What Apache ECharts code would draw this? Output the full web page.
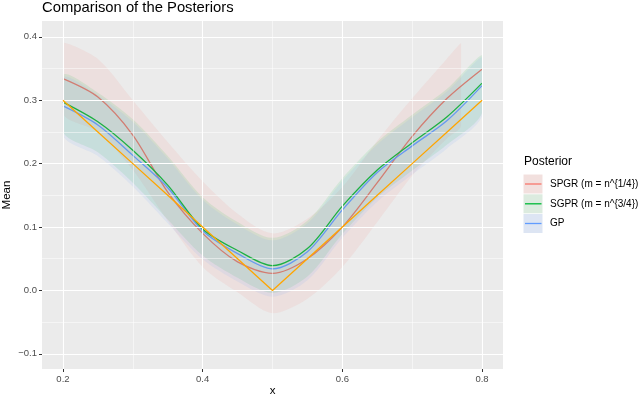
<!DOCTYPE html>
<html style="height: 100%">
<head>
<meta charset="utf-8">
</head>
<body style="height: 100%; margin: 0">
<div id="container" style="width: 640px; height: 397px"></div>
<script type="text/javascript" src="https://cdn.jsdelivr.net/npm/echarts@6/dist/echarts.min.js"></script>
<script type="text/javascript">
// values
var xs = [0.2, 0.25, 0.3, 0.35, 0.4, 0.45, 0.5, 0.55, 0.6, 0.65, 0.7, 0.75, 0.8];
var truth = [0.3, 0.25, 0.2, 0.15, 0.1, 0.05, 0.0, 0.05, 0.1, 0.15, 0.2, 0.25, 0.3];
var spgrMean = [0.334, 0.305, 0.245, 0.155, 0.090, 0.045, 0.027, 0.050, 0.100, 0.170, 0.243, 0.303, 0.349];
var sgprMean = [0.297, 0.266, 0.221, 0.166, 0.097, 0.063, 0.039, 0.066, 0.133, 0.190, 0.233, 0.274, 0.327];
var gpMean = [0.291, 0.261, 0.213, 0.162, 0.094, 0.058, 0.034, 0.061, 0.127, 0.186, 0.228, 0.268, 0.323];

// SPGR ribbon stops short of the right edge
var spgrX = [0.2, 0.25, 0.3, 0.35, 0.4, 0.45, 0.5, 0.55, 0.6, 0.65, 0.7, 0.75, 0.77];
var spgrLower = [0.279, 0.250, 0.190, 0.110, 0.037, -0.003, -0.036, -0.013, 0.037, 0.108, 0.181, 0.240, 0.260];
var spgrUpper = [0.391, 0.365, 0.300, 0.234, 0.172, 0.121, 0.090, 0.113, 0.163, 0.236, 0.303, 0.366, 0.390];
var sgprLower = [0.250, 0.218, 0.170, 0.112, 0.055, 0.020, -0.004, 0.022, 0.089, 0.146, 0.189, 0.230, 0.280];
var sgprUpper = [0.340, 0.312, 0.270, 0.212, 0.147, 0.108, 0.083, 0.110, 0.177, 0.234, 0.277, 0.318, 0.371];
var gpLower = [0.244, 0.212, 0.164, 0.106, 0.049, 0.014, -0.010, 0.016, 0.083, 0.140, 0.183, 0.224, 0.275];
var gpUpper = [0.336, 0.308, 0.266, 0.208, 0.143, 0.104, 0.079, 0.106, 0.173, 0.230, 0.273, 0.314, 0.368];

var xTicks = [0.2, 0.4, 0.6, 0.8];
var xMinor = [0.3, 0.5, 0.7];
var yTicks = [-0.1, 0.0, 0.1, 0.2, 0.3, 0.4];
var yMinor = [-0.05, 0.05, 0.15, 0.25, 0.35];
var legendNames = ['SPGR (m = n^{1/4})', 'SGPR (m = n^{3/4})', 'GP'];

var FONT = 'Liberation Sans, Arial, sans-serif';

function pairs(x, y) {
    return x.map(function (v, i) { return [v, y[i]]; });
}

// ribbon: one polygon, upper edge then lower edge backwards
function band(x, lo, hi, color) {
    return {
        type: 'custom', silent: true, z: 2,
        data: [[x[0], lo[0]]],
        renderItem: function (params, api) {
            var pts = [];
            for (var i = 0; i < x.length; i++) pts.push(api.coord([x[i], hi[i]]));
            for (var j = x.length - 1; j >= 0; j--) pts.push(api.coord([x[j], lo[j]]));
            var minP = [Infinity, Infinity], maxP = [-Infinity, -Infinity];
            pts.forEach(function (p) {
                minP = [Math.min(minP[0], p[0]), Math.min(minP[1], p[1])];
                maxP = [Math.max(maxP[0], p[0]), Math.max(maxP[1], p[1])];
            });
            return {
                type: 'polygon',
                shape: {points: pts, smooth: 0.3, smoothConstraint: [minP, maxP]},
                style: {fill: color, opacity: 0.1}
            };
        }
    };
}

function meanLine(y, color) {
    return {
        type: 'line', data: pairs(xs, y), symbol: 'none', smooth: 0.3, z: 4,
        lineStyle: {color: color, width: 1.3}
    };
}

var gridLines = [];
xTicks.forEach(function (v) { gridLines.push({xAxis: v, lineStyle: {color: '#fff', width: 1.1, type: 'solid'}}); });
xMinor.forEach(function (v) { gridLines.push({xAxis: v, lineStyle: {color: '#fff', width: 0.5, type: 'solid'}}); });
yTicks.forEach(function (v) { gridLines.push({yAxis: v, lineStyle: {color: '#fff', width: 1.1, type: 'solid'}}); });
yMinor.forEach(function (v) { gridLines.push({yAxis: v, lineStyle: {color: '#fff', width: 0.5, type: 'solid'}}); });

var series = [{
    type: 'line', data: [[0.2, 0.3]], symbol: 'none', silent: true, z: 1,
    lineStyle: {width: 0},
    markLine: {silent: true, symbol: 'none', animation: false, label: {show: false}, data: gridLines}
}];
series.push(band(spgrX, spgrLower, spgrUpper, '#F8766D'));
series.push(band(xs, sgprLower, sgprUpper, '#00BA38'));
series.push(band(xs, gpLower, gpUpper, '#619CFF'));
series.push(meanLine(spgrMean, '#d27d72'));
series.push(meanLine(gpMean, '#6699f0'));
series.push(meanLine(sgprMean, '#1db043'));
series.push({
    type: 'line', data: pairs(xs, truth), symbol: 'none', z: 5,
    lineStyle: {color: '#FFA500', width: 1.3}
});

// legend drawn by hand (ggplot style keys)
var keyFill = ['#F2E0DE', '#DCEBDF', '#DDE5F3'];
var keyLine = ['#F8766D', '#00BA38', '#619CFF'];
var keyTop = [174.5, 194.3, 214];
var legend = [{
    type: 'text', left: 524, top: 156,
    style: {text: 'Posterior', fontSize: 12, fontFamily: FONT, fill: '#000'}
}];
legendNames.forEach(function (n, i) {
    legend.push({type: 'rect', shape: {x: 523.5, y: keyTop[i], width: 19, height: 19}, style: {fill: keyFill[i]}});
    legend.push({type: 'line', shape: {x1: 525, y1: keyTop[i] + 9.5, x2: 541.5, y2: keyTop[i] + 9.5},
        style: {stroke: keyLine[i], lineWidth: 1.3}});
    legend.push({type: 'text', x: 550, y: keyTop[i] + 9.5,
        style: {text: n, fontSize: 10, fontFamily: FONT, fill: '#000', verticalAlign: 'middle'}});
});

function fmt(v) {
    var s = v.toFixed(1);
    return s.charAt(0) === '-' ? '\u2212' + s.slice(1) : s;
}

var dom = document.getElementById('container');
var myChart = echarts.init(dom, null, {renderer: 'canvas'});
var option = {
    animation: false,
    title: {
        text: 'Comparison of the Posteriors', left: 42, top: 0, padding: 0,
        textStyle: {fontSize: 14.8, fontWeight: 'normal', color: '#000', fontFamily: FONT}
    },
    grid: {
        left: 42, right: 137, top: 21, bottom: 28,
        outerBoundsMode: 'none', containLabel: false,
        show: true, backgroundColor: '#EBEBEB', borderWidth: 0
    },
    xAxis: {
        type: 'value', min: 0.17, max: 0.83,
        name: 'x', nameLocation: 'middle', nameGap: 16, nameMoveOverlap: false,
        nameTextStyle: {fontSize: 11.5, color: '#000', fontFamily: FONT},
        axisLine: {show: false, onZero: false},
        axisTick: {show: true, length: 3, customValues: xTicks, lineStyle: {color: '#333'}},
        axisLabel: {customValues: xTicks, color: '#4d4d4d', fontSize: 9.5, margin: 5, fontFamily: FONT, formatter: fmt},
        splitLine: {show: false}
    },
    yAxis: {
        type: 'value', min: -0.124, max: 0.425,
        name: 'Mean', nameLocation: 'middle', nameGap: 29, nameMoveOverlap: false,
        nameTextStyle: {fontSize: 11.5, color: '#000', fontFamily: FONT},
        axisLine: {show: false, onZero: false},
        axisTick: {show: true, length: 3, customValues: yTicks, lineStyle: {color: '#333'}},
        axisLabel: {customValues: yTicks, color: '#4d4d4d', fontSize: 9.5, margin: 5, fontFamily: FONT, formatter: fmt},
        splitLine: {show: false}
    },
    graphic: legend,
    series: series
};
myChart.setOption(option);
</script>
</body>
</html>
